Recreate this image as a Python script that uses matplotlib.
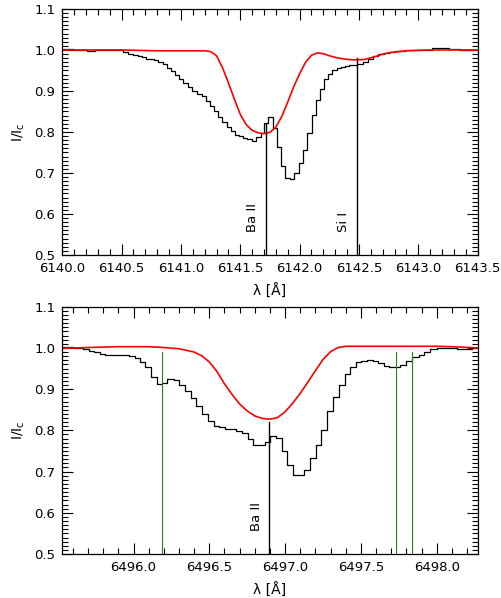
import numpy as np
import matplotlib
matplotlib.use("Agg")
import matplotlib.pyplot as plt
from matplotlib.ticker import MultipleLocator, FormatStrFormatter

plt.rcParams['font.family'] = ['DejaVu Sans']
plt.rcParams['mathtext.fontset'] = 'dejavusans'

# -----------------------------
# Panel 1: 6141 A region (observed = steps, model = red)
# -----------------------------
obs1_wl = [6140.000, 6140.093, 6140.206, 6140.276, 6140.459, 6140.515, 6140.557,
           6140.599, 6140.641, 6140.669, 6140.706, 6140.773, 6140.810, 6140.846,
           6140.880, 6140.917, 6140.951, 6140.984, 6141.021, 6141.063, 6141.097,
           6141.134, 6141.175, 6141.209, 6141.245, 6141.279, 6141.315, 6141.349,
           6141.386, 6141.420, 6141.456, 6141.490, 6141.526, 6141.560, 6141.597,
           6141.633, 6141.675, 6141.703, 6141.737, 6141.774, 6141.808, 6141.844,
           6141.878, 6141.920, 6141.956, 6141.996, 6142.032, 6142.066, 6142.103,
           6142.137, 6142.173, 6142.207, 6142.243, 6142.277, 6142.314, 6142.347,
           6142.384, 6142.417, 6142.487, 6142.538, 6142.580, 6142.622, 6142.664,
           6142.707, 6142.749, 6142.805, 6142.890, 6143.115, 6143.255, 6143.353]
obs1_int = [1.002, 1.000, 0.997, 1.000, 0.999, 0.995, 0.990,
            0.988, 0.985, 0.983, 0.978, 0.975, 0.971, 0.967,
            0.957, 0.949, 0.939, 0.929, 0.919, 0.910, 0.901,
            0.893, 0.888, 0.876, 0.863, 0.850, 0.837, 0.824,
            0.813, 0.803, 0.793, 0.789, 0.786, 0.782, 0.779,
            0.787, 0.798, 0.823, 0.836, 0.809, 0.764, 0.718,
            0.687, 0.685, 0.699, 0.724, 0.756, 0.797, 0.841,
            0.878, 0.904, 0.929, 0.941, 0.951, 0.955, 0.959,
            0.961, 0.963, 0.966, 0.971, 0.977, 0.985, 0.989,
            0.993, 0.996, 0.998, 1.000, 1.006, 1.002, 1.000]
obs1_end = 6143.5

mod1_wl = [6140.00, 6140.50, 6140.80, 6141.10, 6141.20, 6141.25, 6141.30, 6141.35,
           6141.40, 6141.45, 6141.50, 6141.55, 6141.60, 6141.65, 6141.70, 6141.75,
           6141.80, 6141.85, 6141.90, 6141.95, 6142.00, 6142.05, 6142.10, 6142.15,
           6142.20, 6142.25, 6142.30, 6142.35, 6142.40, 6142.45, 6142.50, 6142.55,
           6142.60, 6142.65, 6142.70, 6142.75, 6142.80, 6142.90, 6143.00, 6143.10,
           6143.50]
mod1_int = [1.000, 1.000, 0.998, 0.998, 0.998, 0.996, 0.986, 0.957,
            0.920, 0.880, 0.843, 0.818, 0.804, 0.798, 0.796, 0.799,
            0.812, 0.838, 0.873, 0.910, 0.942, 0.970, 0.987, 0.993,
            0.991, 0.986, 0.982, 0.979, 0.977, 0.976, 0.976, 0.977,
            0.981, 0.985, 0.990, 0.993, 0.995, 0.998, 0.999, 1.000,
            1.000]

lines1_wl = [6141.713, 6142.483]
lines1_top = [0.82, 0.98]
lines1_name = ["Ba II", "Si I"]

# -----------------------------
# Panel 2: 6497 A region
# -----------------------------
obs2_wl = [6495.530, 6495.606, 6495.668, 6495.705, 6495.738, 6495.778, 6495.815,
           6495.969, 6496.007, 6496.042, 6496.079, 6496.117, 6496.156, 6496.189,
           6496.222, 6496.266, 6496.303, 6496.341, 6496.376, 6496.415, 6496.453,
           6496.492, 6496.529, 6496.566, 6496.604, 6496.642, 6496.675, 6496.714,
           6496.752, 6496.790, 6496.866, 6496.903, 6496.940, 6496.977, 6497.015,
           6497.053, 6497.125, 6497.163, 6497.203, 6497.240, 6497.278, 6497.313,
           6497.354, 6497.393, 6497.430, 6497.468, 6497.503, 6497.540, 6497.578,
           6497.613, 6497.650, 6497.688, 6497.760, 6497.798, 6497.837, 6497.881,
           6497.918, 6497.958, 6498.002, 6498.134, 6498.177, 6498.233]
obs2_int = [1.002, 1.000, 0.997, 0.993, 0.991, 0.985, 0.982,
            0.980, 0.975, 0.967, 0.954, 0.930, 0.912, 0.916,
            0.924, 0.922, 0.910, 0.895, 0.878, 0.858, 0.840,
            0.822, 0.811, 0.807, 0.804, 0.803, 0.799, 0.794,
            0.779, 0.765, 0.772, 0.786, 0.782, 0.751, 0.716,
            0.691, 0.703, 0.732, 0.764, 0.801, 0.846, 0.882,
            0.911, 0.937, 0.954, 0.965, 0.968, 0.971, 0.968,
            0.963, 0.957, 0.953, 0.958, 0.968, 0.977, 0.984,
            0.991, 0.997, 0.999, 0.997, 0.998, 1.000]
obs2_end = 6498.27

mod2_wl = [6495.53, 6495.70, 6495.90, 6496.10, 6496.20, 6496.30, 6496.40, 6496.45,
           6496.50, 6496.55, 6496.60, 6496.65, 6496.70, 6496.75, 6496.80, 6496.85,
           6496.90, 6496.95, 6497.00, 6497.05, 6497.10, 6497.15, 6497.20, 6497.25,
           6497.30, 6497.35, 6497.40, 6497.60, 6497.80, 6498.00, 6498.10, 6498.27]
mod2_int = [0.999, 1.001, 1.003, 1.003, 1.001, 0.998, 0.990, 0.981,
            0.966, 0.943, 0.913, 0.887, 0.864, 0.847, 0.835, 0.829,
            0.827, 0.831, 0.845, 0.866, 0.890, 0.917, 0.945, 0.972,
            0.991, 1.001, 1.004, 1.004, 1.004, 1.004, 1.003, 1.000]

lines2_wl = [6496.897]
lines2_top = [0.82]
lines2_name = ["Ba II"]
blend2_wl = [6496.19, 6497.73, 6497.84]
blend2_top = 0.99

# -----------------------------
# Figure
# -----------------------------
fig = plt.figure(figsize=(5.02, 5.98), dpi=100)
ax1 = fig.add_axes([0.124, 0.5736, 0.8275, 0.4114])
ax2 = fig.add_axes([0.124, 0.0736, 0.8275, 0.4135])


def style_axis(ax, xlim, xmajor):
    ax.set_xlim(*xlim)
    ax.set_ylim(0.5, 1.1)
    ax.xaxis.set_major_locator(MultipleLocator(xmajor))
    ax.xaxis.set_minor_locator(MultipleLocator(0.1))
    ax.yaxis.set_major_locator(MultipleLocator(0.1))
    ax.yaxis.set_minor_locator(MultipleLocator(0.01))
    ax.xaxis.set_major_formatter(FormatStrFormatter('%.1f'))
    ax.yaxis.set_major_formatter(FormatStrFormatter('%.1f'))
    ax.tick_params(which='both', direction='in', top=True, right=True,
                   width=0.8, labelsize=9.5, color='black')
    ax.tick_params(which='major', length=8, pad=5)
    ax.tick_params(which='minor', length=4)
    for s in ax.spines.values():
        s.set_linewidth(0.9)
    ax.set_xlabel(u"\u03bb [\u00c5]", fontsize=10)
    ax.set_ylabel(r"I/I$_{\rm c}$", fontsize=10)
    ax.yaxis.set_label_coords(-0.085, 0.5)
    ax.xaxis.set_label_coords(0.5, -0.115)


def draw_obs(ax, wl, val, end):
    x = np.append(wl, end)
    y = np.append(val, val[-1])
    ax.step(x, y, where='post', color='black', lw=0.9)


def mark_line(ax, wl, top, name, color='black', lw=1.0):
    ax.plot([wl, wl], [0.5, top], color=color, lw=lw)
    if name:
        ax.annotate(name, xy=(wl, 0.555), xytext=(-5, 0),
                    textcoords='offset points', rotation=90,
                    ha='right', va='bottom', fontsize=9.5)


# top panel
draw_obs(ax1, obs1_wl, obs1_int, obs1_end)
ax1.plot(mod1_wl, mod1_int, color='red', lw=1.2)
for wl, top, name in zip(lines1_wl, lines1_top, lines1_name):
    mark_line(ax1, wl, top, name)
style_axis(ax1, (6140.0, 6143.5), 0.5)

# bottom panel
draw_obs(ax2, obs2_wl, obs2_int, obs2_end)
ax2.plot(mod2_wl, mod2_int, color='red', lw=1.2)
for wl in blend2_wl:
    mark_line(ax2, wl, blend2_top, None, color='#1a8a1a', lw=0.8)
for wl, top, name in zip(lines2_wl, lines2_top, lines2_name):
    mark_line(ax2, wl, top, name)
style_axis(ax2, (6495.53, 6498.27), 0.5)

fig.savefig("out.png", dpi=100)
